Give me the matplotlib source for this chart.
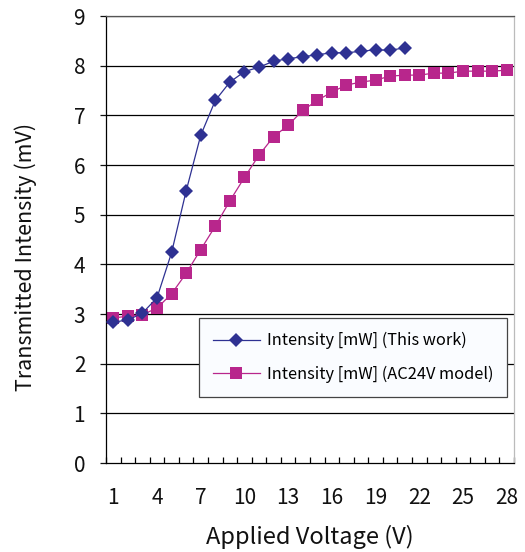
import matplotlib

matplotlib.use("Agg")
import matplotlib.pyplot as plt
from matplotlib.ticker import FixedLocator

plt.rcParams["font.family"] = ["Noto Sans CJK JP", "DejaVu Sans"]

# Data
voltage_this = list(range(1, 22))
intensity_this = [2.84, 2.88, 3.02, 3.33, 4.24, 5.48, 6.60, 7.30, 7.67, 7.88, 7.97,
                  8.09, 8.14, 8.18, 8.22, 8.26, 8.26, 8.29, 8.32, 8.31, 8.36]
voltage_ac24 = list(range(1, 29))
intensity_ac24 = [2.92, 2.96, 2.99, 3.12, 3.41, 3.82, 4.30, 4.77, 5.28, 5.75, 6.20,
                  6.57, 6.80, 7.10, 7.30, 7.47, 7.61, 7.67, 7.71, 7.79, 7.81, 7.81,
                  7.85, 7.85, 7.89, 7.89, 7.89, 7.91]
x_ticks = [1, 4, 7, 10, 13, 16, 19, 22, 25, 28]
y_ticks = list(range(0, 10))

BLUE = "#2E3192"
PINK = "#B8268C"
FG = "#111111"

fig = plt.figure(figsize=(5.25, 5.52), dpi=100, facecolor="white")
ax = fig.add_axes([0.202, 0.161, 0.777, 0.81])

for y in y_ticks[1:]:
    ax.axhline(y, color="black", linewidth=0.9, zorder=1)

ax.plot(voltage_this, intensity_this, color=BLUE, linewidth=0.9, marker="D",
        markersize=7.5, markeredgewidth=0, zorder=3,
        label="Intensity [mW] (This work)")
ax.plot(voltage_ac24, intensity_ac24, color=PINK, linewidth=0.9, marker="s",
        markersize=8, markeredgewidth=0, zorder=2,
        label="Intensity [mW] (AC24V model)")

ax.set_xlim(0.5, 28.5)
ax.set_ylim(0, 9)
ax.set_xticks(x_ticks)
ax.set_xticklabels([str(v) for v in x_ticks])
ax.xaxis.set_minor_locator(FixedLocator([i + 0.5 for i in range(0, 29)]))
ax.tick_params(axis="x", which="major", length=0, pad=17, labelsize=15, colors=FG)
ax.tick_params(axis="x", which="minor", direction="in", length=4.5, width=0.9)
ax.set_yticks(y_ticks)
ax.tick_params(axis="y", which="major", direction="out", length=4, width=0.9,
               pad=11, labelsize=15, colors=FG)

ax.spines["left"].set_color("black")
ax.spines["bottom"].set_color("black")
ax.spines["top"].set_color("#555555")
ax.spines["right"].set_color("#bbbbbb")
for s in ax.spines.values():
    s.set_linewidth(0.9)

ax.set_xlabel("Applied Voltage (V)", fontsize=17, color=FG, labelpad=12)
ax.set_ylabel("Transmitted Intensity (mV)", fontsize=15.5, color=FG)
ax.yaxis.set_label_coords(-0.17, 0.462)

leg = ax.legend(loc="lower right", bbox_to_anchor=(0.983, 0.148), borderaxespad=0,
                fontsize=11.8, frameon=True, fancybox=False, handlelength=2.9,
                borderpad=0.85, labelspacing=1.0, handletextpad=0.4)
leg.get_frame().set_facecolor("#FAFCFF")
leg.get_frame().set_edgecolor("#444444")
leg.get_frame().set_linewidth(0.9)
leg.get_frame().set_alpha(1)

fig.savefig("out.png", dpi=100, facecolor="white")
